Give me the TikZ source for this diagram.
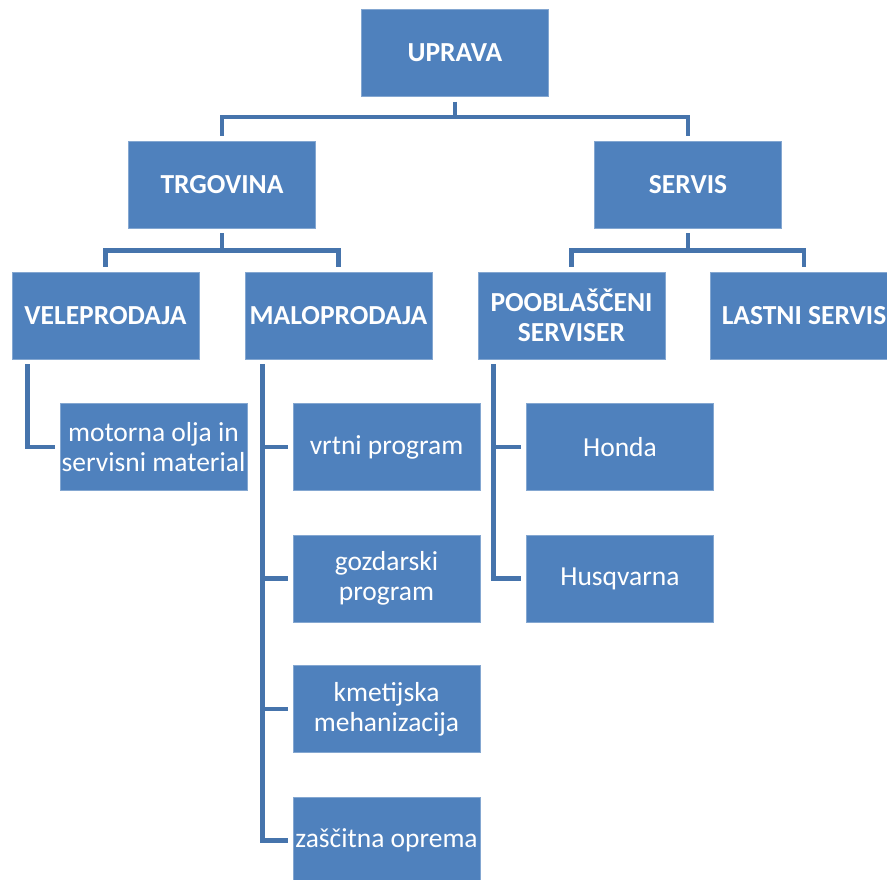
\documentclass[tikz,border=0pt]{standalone}
\usepackage{fontspec}
\setmainfont{Carlito}
\definecolor{boxblue}{HTML}{4F81BD}
\definecolor{lineblue}{HTML}{4674AC}
\tikzset{
  box/.style={fill=boxblue, draw=boxblue!70!white, line width=0.8pt, minimum width=187pt, minimum height=87pt, inner sep=0pt, text=white, align=center, font=\fontsize{27.5}{30}\selectfont},
  headbox/.style={box, font=\fontsize{27.5}{30}\selectfont\bfseries},
  conn/.style={draw=lineblue, line width=4.5pt, line join=miter},
}
\begin{document}
\begin{tikzpicture}[x=1pt,y=-1pt]
\useasboundingbox (0,0) rectangle (887,879);
% level 0
\node[headbox] (uprava) at (455,53) {UPRAVA};
% level 1
\node[headbox] (trgovina) at (222,184.5) {TRGOVINA};
\node[headbox] (servis) at (688,184.5) {SERVIS};
% level 2
\node[headbox] (velep) at (105.5,315.5) {VELEPRODAJA};
\node[headbox] (malop) at (338.5,315.5) {MALOPRODAJA};
\node[headbox] (poob) at (571.5,315.5) {POOBLAŠČENI\\SERVISER};
\node[headbox] (lastni) at (804,315.5) {LASTNI SERVIS};
% level 3
\node[box] (motorna) at (153.5,447) {motorna olja in\\servisni material};
\node[box] (vrtni) at (386.5,447) {vrtni program};
\node[box] (gozd) at (386.5,578.5) {gozdarski\\program};
\node[box] (kmet) at (386.5,709) {kmetijska\\mehanizacija};
\node[box] (zasc) at (386.5,840.5) {zaščitna oprema};
\node[box] (honda) at (620,447) {Honda};
\node[box] (husq) at (620,578.5) {Husqvarna};
% connectors level 0 -> 1
\draw[conn, shorten <=5pt, shorten >=5pt] (uprava.south) -- ++(0,20) -| (trgovina.north);
\draw[conn, shorten <=5pt, shorten >=5pt] (uprava.south) -- ++(0,20) -| (servis.north);
% level 1 -> 2
\draw[conn, shorten <=5pt, shorten >=5pt] (trgovina.south) -- ++(0,22) -| (velep.north);
\draw[conn, shorten <=5pt, shorten >=5pt] (trgovina.south) -- ++(0,22) -| (malop.north);
\draw[conn, shorten <=5pt, shorten >=5pt] (servis.south) -- ++(0,22) -| (poob.north);
\draw[conn, shorten <=5pt, shorten >=5pt] (servis.south) -- ++(0,22) -| (lastni.north);
% level 2 -> 3
\draw[conn, shorten >=5pt] ([xshift=16pt,yshift=-5pt]velep.south west) |- (motorna.west);
\draw[conn, shorten >=5pt] ([xshift=18pt,yshift=-5pt]malop.south west) |- (vrtni.west);
\draw[conn, shorten >=5pt] ([xshift=18pt,yshift=-5pt]malop.south west) |- (gozd.west);
\draw[conn, shorten >=5pt] ([xshift=18pt,yshift=-5pt]malop.south west) |- (kmet.west);
\draw[conn, shorten >=5pt] ([xshift=18pt,yshift=-5pt]malop.south west) |- (zasc.west);
\draw[conn, shorten >=5pt] ([xshift=16pt,yshift=-5pt]poob.south west) |- (honda.west);
\draw[conn, shorten >=5pt] ([xshift=16pt,yshift=-5pt]poob.south west) |- (husq.west);
\end{tikzpicture}
\end{document}
